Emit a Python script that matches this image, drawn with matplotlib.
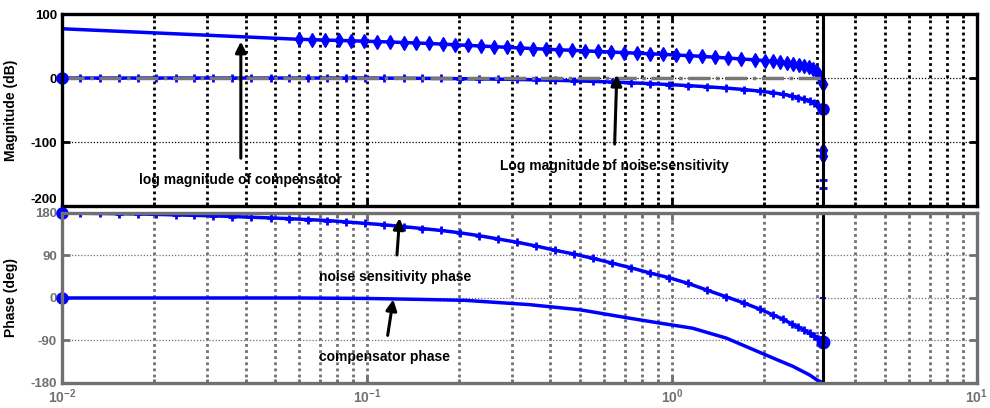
import numpy as np
import matplotlib
matplotlib.use("Agg")
import matplotlib.pyplot as plt

plt.rcParams['font.family'] = ['Liberation Sans', 'DejaVu Sans']
plt.rcParams['font.weight'] = 'bold'
plt.rcParams['axes.unicode_minus'] = False
plt.rcParams['mathtext.fontset'] = 'custom'
plt.rcParams['mathtext.rm'] = 'Liberation Sans:bold'
plt.rcParams['mathtext.it'] = 'Liberation Sans:bold'
plt.rcParams['mathtext.default'] = 'rm'

nyquist = 3.1416  # rad/s, Ts = 1

# compensator magnitude (dB) -- first point plain, rest with diamonds
comp_freq = [0.010, 0.060, 0.066, 0.073, 0.081, 0.089, 0.098, 0.108, 0.119, 0.132,
             0.145, 0.160, 0.177, 0.195, 0.215, 0.237, 0.262, 0.289, 0.318, 0.351,
             0.387, 0.427, 0.471, 0.520, 0.573, 0.633, 0.698, 0.770, 0.849, 0.937,
             1.03, 1.14, 1.26, 1.39, 1.53, 1.69, 1.87, 2.02, 2.14, 2.26,
             2.38, 2.49, 2.61, 2.71, 2.81, 2.90, 2.99, 3.05, 3.14]
comp_mag = [77, 60.5, 60, 59.3, 58.7, 58.2, 57.6, 57, 56.3, 55.5,
            54.8, 54, 53, 52, 51, 50, 49, 48, 47, 46,
            45, 44.2, 43.3, 42.4, 41.5, 40.6, 39.7, 38.8, 37.9, 37,
            36, 35, 33.8, 32.5, 31.2, 29.8, 28.4, 27.2, 26.2, 25,
            23.6, 22.2, 20.5, 18.8, 16.5, 13.5, 9.5, 5, -9]
comp_mag_nyq = [-9, -112, -122]

# noise sensitivity
noise_freq = [0.0100, 0.0115, 0.0133, 0.0154, 0.0177, 0.0204, 0.0236, 0.0272, 0.0314, 0.0362,
              0.0418, 0.0483, 0.0557, 0.0643, 0.0742, 0.0856, 0.0988, 0.114, 0.132, 0.152,
              0.175, 0.202, 0.233, 0.269, 0.311, 0.359, 0.414, 0.478, 0.551, 0.636,
              0.734, 0.847, 0.978, 1.13, 1.30, 1.50, 1.73, 1.95, 2.15, 2.32,
              2.47, 2.60, 2.72, 2.83, 2.93, 3.02, 3.09, 3.14]
noise_mag = [0, 0, 0, 0, 0, 0, 0, 0, 0, 0,
             0, 0, 0, 0, 0, 0, 0, -0.2, -0.3, -0.5,
             -0.7, -1.0, -1.3, -1.7, -2.2, -2.8, -3.5, -4.3, -5.2, -6.2,
             -7.4, -8.7, -10.2, -11.8, -13.6, -15.6, -18, -20.5, -23, -25.5,
             -28, -30.5, -33, -36, -39, -42, -45, -48]
noise_phase = [180, 179.5, 179, 178.5, 178, 177, 176, 175, 174, 172.5,
               171, 169.5, 168, 166, 164, 161, 158, 155, 151, 147,
               143, 138, 132, 125, 118, 110, 101, 93, 84, 74,
               64, 53, 43, 31, 17, 3, -11, -24, -36, -45,
               -55, -62, -68, -75, -81, -86, -90, -93]
noise_mag_nyq = [-48, -160, -172, -260]
noise_phase_nyq = [0, -75]

# compensator phase
comp_ph_freq = [0.01, 0.03, 0.06, 0.1, 0.15, 0.21, 0.34, 0.5, 0.73, 0.91,
                1.17, 1.51, 1.94, 2.2, 2.5, 2.83, 3.0, 3.14]
comp_phase = [0, 0, 0, -1, -3, -5, -14, -25, -43, -53,
              -64, -85, -115, -130, -145, -163, -174, -180]

unity_freq = [0.01, 3.08]
unity_db = [0, 0]

blue = '#0000ff'
gray = '#707070'

fig = plt.figure(figsize=(9.9, 4.08), dpi=100)
ax1 = fig.add_axes([0.0626, 0.495, 0.924, 0.4706])
ax2 = fig.add_axes([0.0626, 0.0613, 0.924, 0.4167])

# ---- magnitude ----
ax1.plot(comp_freq, comp_mag, color=blue, lw=2.5, marker='d', ms=7.5,
         markevery=slice(1, None))
ax1.plot([nyquist] * 3, comp_mag_nyq, color=blue, lw=1, marker='d', ms=7)
ax1.plot(noise_freq, noise_mag, color=blue, lw=2.5, marker='+', ms=6, mew=2)
ax1.plot([nyquist] * 4, noise_mag_nyq, color=blue, lw=1.2, marker='+', ms=6, mew=2)
ax1.plot(unity_freq, unity_db, color='#777777', lw=2.5, ls='-.')
ax1.plot(noise_freq[0], noise_mag[0], 'o', color=blue, ms=8, clip_on=False)
ax1.plot(noise_freq[-1], noise_mag[-1], 'o', color=blue, ms=8)
ax1.axvline(nyquist, color='k', lw=2.2)

ax1.set_ylim(-200, 100)
ax1.set_yticks([-200, -100, 0, 100])
ax1.set_ylabel('Magnitude (dB)', fontsize=10, fontweight='bold')

ax1.annotate('log magnitude of compensator', xy=(0.0386, 57), xytext=(0.0386, -160),
             ha='center', va='center', fontsize=10, fontweight='bold',
             arrowprops=dict(arrowstyle='-|>', color='k', lw=2.2, mutation_scale=16,
                             shrinkA=9, shrinkB=0))
ax1.annotate('Log magnitude of noise sensitivity', xy=(0.66, 5), xytext=(0.646, -138),
             ha='center', va='center', fontsize=10, fontweight='bold',
             arrowprops=dict(arrowstyle='-|>', color='k', lw=2.2, mutation_scale=16,
                             shrinkA=9, shrinkB=0))

# ---- phase ----
ax2.plot(noise_freq, noise_phase, color=blue, lw=2.5, marker='+', ms=6, mew=2)
ax2.plot(comp_ph_freq, comp_phase, color=blue, lw=2.5)
ax2.plot([nyquist] * 2, noise_phase_nyq, ls='none', color=blue, marker='+', ms=5, mew=1.5)
ax2.plot(noise_freq[0], noise_phase[0], 'o', color=blue, ms=8, clip_on=False)
ax2.plot(noise_freq[-1], noise_phase[-1], 'o', color=blue, ms=9)
ax2.plot(comp_ph_freq[0], comp_phase[0], 'o', color=blue, ms=8, clip_on=False)
ax2.axvline(nyquist, color='k', lw=2.2)

ax2.set_ylim(-180, 180)
ax2.set_yticks([-180, -90, 0, 90, 180])
ax2.set_ylabel('Phase (deg)', fontsize=10, fontweight='bold')

ax2.annotate('noise sensitivity phase', xy=(0.128, 169), xytext=(0.124, 44),
             ha='center', va='center', fontsize=10, fontweight='bold',
             arrowprops=dict(arrowstyle='-|>', color='k', lw=2.2, mutation_scale=16,
                             shrinkA=9, shrinkB=0))
ax2.annotate('compensator phase', xy=(0.122, -3), xytext=(0.114, -126),
             ha='center', va='center', fontsize=10, fontweight='bold',
             arrowprops=dict(arrowstyle='-|>', color='k', lw=2.2, mutation_scale=16,
                             shrinkA=9, shrinkB=0))

for ax, c in [(ax1, 'k'), (ax2, gray)]:
    ax.set_xscale('log')
    ax.set_xlim(0.01, 10)
    ax.set_axisbelow(True)
    ax.grid(which='both', axis='x', color=c, lw=2, ls=(0, (1, 1.2)))
    ax.grid(which='major', axis='y', color=c, lw=0.9, ls=(0, (1, 1.5)))
    for s in ax.spines.values():
        s.set_color(c)
        s.set_linewidth(2.4)
    ax.tick_params(which='both', direction='in', top=True, right=True,
                   color=c, width=2, labelcolor=c, labelsize=9.5)
    ax.tick_params(which='major', length=6)
    ax.tick_params(which='minor', length=3)
    ax.yaxis.set_label_coords(-0.048, 0.5)

ax1.tick_params(labelbottom=False)
ax2.tick_params(axis='x', pad=3, labelsize=10)
fig.canvas.draw()
for ax in (ax1, ax2):
    for lab in ax.get_yticklabels() + ax.get_xticklabels():
        lab.set_fontweight('bold')
ax1.get_yticklabels()[0].set_va('bottom')

fig.savefig('out.png', dpi=100)
